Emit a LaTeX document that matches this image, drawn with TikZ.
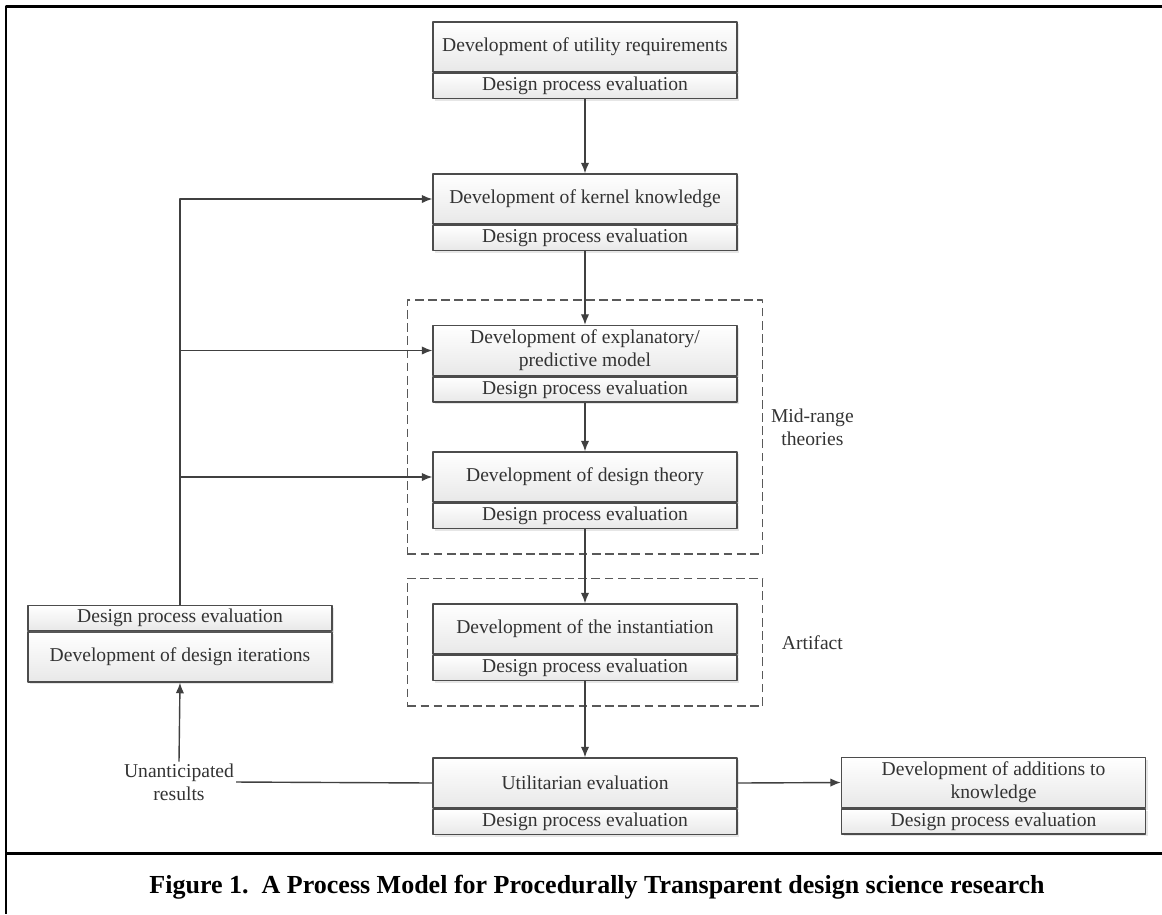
\documentclass[tikz,border=0pt]{standalone}
\usepackage{fontspec}
\setmainfont{Liberation Serif}
\usetikzlibrary{positioning,fit,shadows,arrows.meta}

\begin{document}
\begin{tikzpicture}[x=0.02cm,y=-0.02cm,line join=round,>={Latex[length=6pt,width=4.8pt]},
	font=\fontsize{11.15}{13}\selectfont,
	part/.style={draw=black!70,line width=0.8pt,top color=white,bottom color=black!9,text=black!80,align=center,
		inner sep=0pt,minimum width=6.08cm,
		drop shadow={shadow xshift=1.2pt,shadow yshift=-1.2pt,opacity=0.2}},
	stage/.style={part,minimum height=1cm},
	evalbar/.style={part,minimum height=0.5cm},
	group/.style={draw=black!65,line width=0.8pt,dash pattern=on 5pt off 2.5pt,inner sep=0.5cm},
	flow/.style={draw=black!75,line width=0.8pt,->},
	plain/.style={draw=black!75,line width=0.8pt}]
	\useasboundingbox (0,0) rectangle (1162,914);
	% Khung va chu thich
	\draw[line width=1.7pt] (1162,6) -- (6,6) -- (6,914);
	\draw[line width=1.7pt] (6,853) -- (1162,853);
	\node (cap) at (597,887) {\fontsize{14.8}{17}\selectfont\bfseries Figure 1.\ \ A Process Model for Procedurally Transparent design science research};
	% Cac buoc chinh
	\node[stage] (req) at (585,47) {Development of utility requirements};
	\node[stage] (ker) at (585,199) {Development of kernel knowledge};
	\node[stage] (exp) at (585,350.5) {Development of explanatory/\\predictive model};
	\node[stage] (thy) at (585,477) {Development of design theory};
	\node[stage] (ins) at (585,629) {Development of the instantiation};
	\node[stage] (uti) at (585,783) {Utilitarian evaluation};
	\node[stage] (add) at (993.5,782.5) {Development of additions to\\knowledge};
	\foreach \n in {req,ker,exp,thy,ins,uti,add}{
		\node[evalbar,below=0pt of \n] (\n-e) {Design process evaluation};
	}
	\node[stage] (itr) at (180,657) {Development of design iterations};
	\node[evalbar,above=0pt of itr] (itr-e) {Design process evaluation};
	% Nhom net dut
	\node[group,fit=(exp)(thy-e)] (mid) {};
	\node[group,fit=(ins)(ins-e)] (art) {};
	\node[align=center,text=black!80] (midl) at ([xshift=0.98cm]mid.east) {Mid-range\\theories};
	\node[text=black!80] (artl) at ([xshift=0.98cm]art.east) {Artifact};
	\node[align=center,inner sep=1pt,text=black!80] (una) at (179,782) {Unanticipated\\results};
	% Mui ten
	\foreach \a/\b in {req/ker,ker/exp,exp/thy,thy/ins,ins/uti}{
		\draw[flow] (\a-e.south) -- (\b.north);
	}
	\draw[flow] (uti.east) -- (add.west);
	\draw[plain] (una.east) -- (uti.west);
	\draw[flow] (una.north) -- (itr.south);
	\draw[flow] (itr-e.north) |- (ker.west);
	\foreach \n in {exp,thy}{
		\draw[flow] (itr-e.north |- \n.west) -- (\n.west);
	}
\end{tikzpicture}
\end{document}
